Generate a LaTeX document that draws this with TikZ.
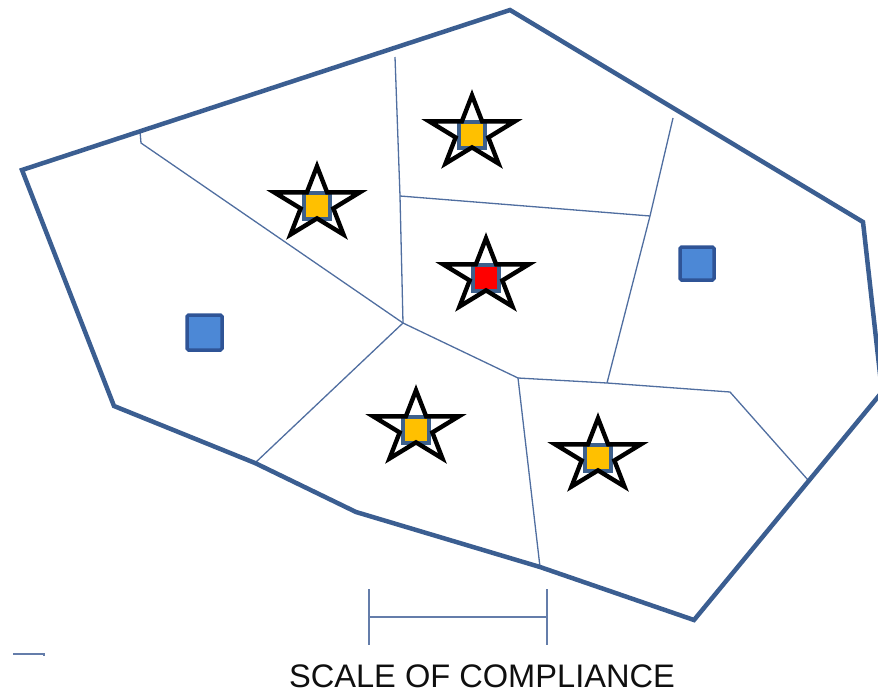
\documentclass[tikz,border=0pt]{standalone}
\usepackage{fontspec}
\setmainfont{Liberation Sans}
\definecolor{edgeblue}{RGB}{59,94,145}
\definecolor{cellblue}{RGB}{80,110,160}
\definecolor{barblue}{RGB}{100,125,170}
\definecolor{markfill}{RGB}{76,136,214}
\definecolor{markedge}{RGB}{47,84,150}
\definecolor{slate}{RGB}{61,96,140}
\definecolor{amber}{RGB}{255,192,0}
\definecolor{alert}{RGB}{255,0,0}
\definecolor{inkgray}{RGB}{15,15,15}
\begin{document}
\begin{tikzpicture}[x=1pt,y=-1pt,
  boundary/.style={draw=edgeblue,line width=4.5pt},
  cellline/.style={draw=cellblue,line width=1.3pt},
  barline/.style={draw=barblue,line width=1.3pt},
  sitebox/.style={draw=slate,line width=4pt},
  starline/.style={draw=black,line width=4.4pt},
  plainsite/.style={draw=markedge,fill=markfill,line width=3.5pt,rounded corners=1.5pt},
  pics/site/.style={code={
    \path[sitebox,fill=#1] (-13,-11) rectangle (13,15);
    \draw[starline] (0,-37.7) -- (-10.10,-11.65) -- (-42.80,-11.65)
      -- (-16.35,4.45) -- (-26.45,30.50) -- (0,14.40) -- (26.45,30.50)
      -- (16.35,4.45) -- (42.80,-11.65) -- (10.10,-11.65) -- cycle;
  }}]
\useasboundingbox (0,0) rectangle (878,696);
\clip (0,0) rectangle (878,696);

% outer boundary of the district
\coordinate (p1) at (22,170);
\coordinate (p2) at (510,10);
\coordinate (p3) at (863,222);
\coordinate (p4) at (882,392);
\coordinate (p5) at (694,620);
\coordinate (p6) at (540,567);
\coordinate (p7) at (356,512);
\coordinate (p8) at (255,463);
\coordinate (p9) at (114,406);

% internal cell vertices
\coordinate (a0) at (140,131);
\coordinate (a1) at (141,143);
\coordinate (j1) at (403,323);
\coordinate (t1) at (395,57);
\coordinate (m1) at (400,196);
\coordinate (r1) at (650,216);
\coordinate (t2) at (673,118);
\coordinate (b1) at (607,383);
\coordinate (j2) at (518,378);
\coordinate (b2) at (730,392);
\coordinate (e1) at (808,480);

% cell borders
\draw[cellline] (a0) -- (a1) -- (j1);
\draw[cellline] (t1) -- (m1) -- (j1);
\draw[cellline] (m1) -- (r1);
\draw[cellline] (t2) -- (r1) -- (b1);
\draw[cellline] (j1) -- (p8);
\draw[cellline] (j1) -- (j2) -- (p6);
\draw[cellline] (j2) -- (b1) -- (b2) -- (e1);

\draw[boundary] (p1) -- (p2) -- (p3) -- (p4) -- (p5) -- (p6) -- (p7) -- (p8) -- (p9) -- cycle;

% plain sites
\path[plainsite] (187,315) rectangle (222,350);
\path[plainsite] (680,247) rectangle (714,280);

% starred sites
\pic at (472,133) {site=amber};
\pic at (317,204) {site=amber};
\pic at (486,276) {site=alert};
\pic at (416,428) {site=amber};
\pic at (598,456) {site=amber};

% scale bar
\coordinate (sl) at (369,617);
\coordinate (sr) at (547,617);
\draw[barline] (369,589) -- (369,645);
\draw[barline] (547,589) -- (547,645);
\draw[barline] (sl) -- (sr);

% small mark at the lower left
\coordinate (ml) at (13,654);
\coordinate (mr) at (44,654);
\draw[barline] (ml) -- (mr) -- ++(0,2);

\node[anchor=base,inner sep=0pt,text=inkgray,font=\fontsize{32.6}{36}\selectfont] (caption) at (482,687) {SCALE OF COMPLIANCE};
\end{tikzpicture}
\end{document}
